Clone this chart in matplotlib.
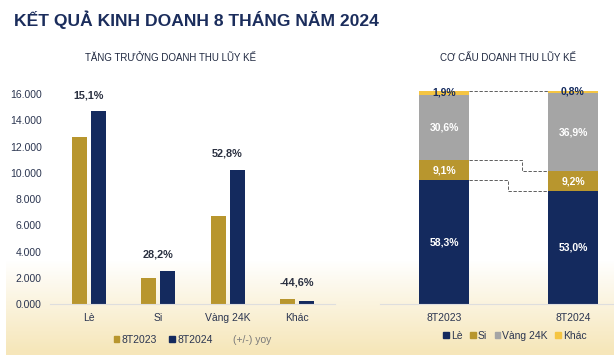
import matplotlib.pyplot as plt
import numpy as np
from matplotlib.patches import Patch
from matplotlib.lines import Line2D

plt.rcParams['font.family'] = ['Liberation Sans', 'DejaVu Sans']

# data
categories = ['Lè', 'Si', 'Vàng 24K', 'Khác']
rev_2023 = [12770, 1981, 6705, 404]
rev_2024 = [14698, 2540, 10245, 224]
yoy_labels = ['15,1%', '28,2%', '52,8%', '-44,6%']

periods = ['8T2023', '8T2024']
share_le = [58.3, 53.0]
share_si = [9.1, 9.2]
share_vang = [30.6, 36.9]
share_khac = [1.9, 0.8]

gold = '#b8962e'
navy = '#142a5e'
grey = '#a5a5a5'
yellow = '#f5c542'
txt = '#2b3550'

fig = plt.figure(figsize=(6.14, 3.55), dpi=100)

# background: white fading to cream at the bottom
bg = fig.add_axes([0, 0, 1, 1], zorder=-5)
h = 355
t = np.clip((np.arange(h) - 260) / 90.0, 0, 1)[::-1]
top = np.array([1.0, 1.0, 1.0])
bot = np.array([0.965, 0.905, 0.73])
grad = top[None, :] * (1 - t[:, None]) + bot[None, :] * t[:, None]
img = np.repeat(grad[:, None, :], 614, axis=1)
img[:, :6, :] = 1.0
bg.imshow(img, aspect='auto', extent=[0, 1, 0, 1], origin='lower')
bg.axis('off')

fig.text(14 / 614, 1 - 20 / 355, 'KẾT QUẢ KINH DOANH 8 THÁNG NĂM 2024',
         fontsize=12.6, fontweight='bold', color='#1b2d5c', va='center', ha='left')
fig.text(171 / 614, 1 - 58 / 355, 'TĂNG TRƯỞNG DOANH THU LŨY KẾ',
         fontsize=7, color='#1f2840', ha='center', va='center')
fig.text(508 / 614, 1 - 58 / 355, 'CƠ CẤU DOANH THU LŨY KẾ',
         fontsize=7, color='#1f2840', ha='center', va='center')

# left chart: grouped bars
ax1 = fig.add_axes([50 / 614, 0.1428, 285 / 614, 0.629])
x = np.arange(len(categories))
w = 0.216
ax1.bar(x - 0.137, rev_2023, w, color=gold, label='8T2023')
ax1.bar(x + 0.137, rev_2024, w, color=navy, label='8T2024')
for i, lab in enumerate(yoy_labels):
    top_v = max(rev_2023[i], rev_2024[i])
    ax1.annotate(lab, (x[i], top_v), xytext=(0, 8), textcoords='offset points',
                 ha='center', va='bottom', fontsize=7.8, fontweight='bold', color='#2a3040')
ax1.set_xlim(-0.56, 3.55)
ax1.set_ylim(0, 17000)
ax1.set_yticks(np.arange(0, 16001, 2000))
ax1.set_yticklabels([f'{v / 1000:.3f}' for v in np.arange(0, 16001, 2000)])
ax1.set_xticks(x)
ax1.set_xticklabels(categories)
ax1.tick_params(length=0, labelsize=7.5, labelcolor=txt)
ax1.tick_params(axis='y', pad=6)
ax1.tick_params(axis='x', pad=6)
for s in ['top', 'right', 'left']:
    ax1.spines[s].set_visible(False)
ax1.spines['bottom'].set_color('#dedede')
ax1.patch.set_alpha(0)
yoy_handle = Line2D([], [], linestyle='none')
leg1 = ax1.legend(handles=[Patch(color=gold), Patch(color=navy), yoy_handle],
                  labels=['8T2023', '8T2024', '(+/-) yoy'], ncol=3, frameon=False,
                  loc='center', bbox_to_anchor=(0.5, -0.16), fontsize=7.5,
                  handlelength=0.55, handleheight=0.55, handletextpad=0.2, columnspacing=1.2)
for tx in leg1.get_texts():
    tx.set_color(txt)
leg1.get_texts()[2].set_color('#7a7a7a')

# right chart: 100% stacked bars
ax2 = fig.add_axes([380 / 614, 0.1428, 234 / 614, 213.6 / 355])
xp = np.arange(len(periods))
bw = 0.395
segs = [(share_le, navy, 'Lè', 'white'), (share_si, gold, 'Si', 'white'),
        (share_vang, grey, 'Vàng 24K', 'white'), (share_khac, yellow, 'Khác', navy)]
bottom = np.zeros(len(periods))
bounds = []
for vals, col, name, tc in segs:
    vals = np.array(vals)
    ax2.bar(xp, vals, bw, bottom=bottom, color=col, label=name)
    for j in range(len(periods)):
        ax2.text(xp[j], bottom[j] + vals[j] / 2, f'{vals[j]:.1f}%'.replace('.', ','),
                 ha='center', va='center', fontsize=7.5, fontweight='bold', color=tc)
    bottom = bottom + vals
    bounds.append(bottom.copy())

# dashed connectors between segment tops
x0 = xp[0] + bw / 2
x1 = xp[1] - bw / 2
steps = [x0 + 0.30, x0 + 0.41, x0 + 0.30]
for k, b in enumerate([bounds[0], bounds[1], bounds[3]]):
    xs = steps[k]
    ax2.plot([x0, xs, xs, x1], [b[0], b[0], b[1], b[1]], ls=(0, (4, 2)),
             lw=0.6, color='#444444')

ax2.set_xlim(-0.496, 1.318)
ax2.set_ylim(0, 100)
ax2.set_xticks(xp)
ax2.set_xticklabels(periods)
ax2.set_yticks([])
ax2.tick_params(length=0, labelsize=7.5, labelcolor=txt, pad=6)
for s in ['top', 'right', 'left']:
    ax2.spines[s].set_visible(False)
ax2.spines['bottom'].set_color('#dedede')
ax2.patch.set_alpha(0)
leg2 = ax2.legend(handles=[Patch(color=c) for _, c, _, _ in segs],
                  labels=[n for _, _, n, _ in segs], ncol=4, frameon=False,
                  loc='center', bbox_to_anchor=(135 / 234, -0.148), fontsize=7.5,
                  handlelength=0.55, handleheight=0.55, handletextpad=0.2, columnspacing=0.7)
for tx in leg2.get_texts():
    tx.set_color(txt)

fig.savefig('out.png', dpi=100)
